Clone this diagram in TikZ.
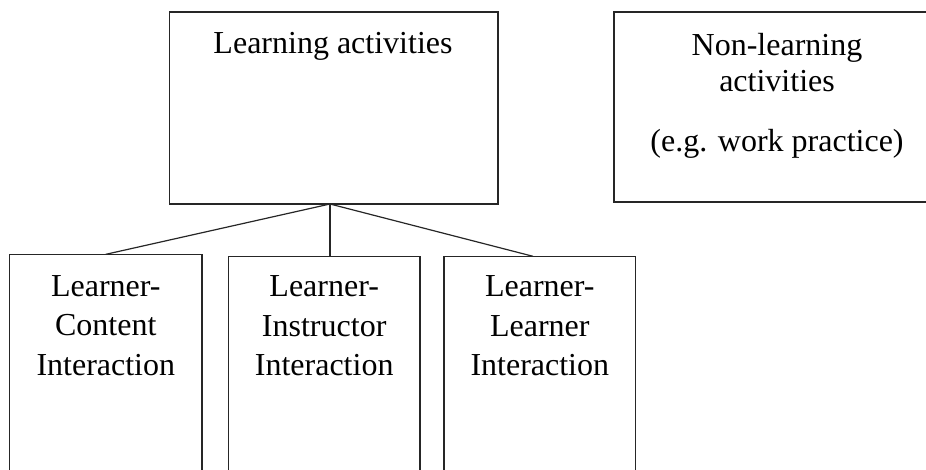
\documentclass[tikz,border=0pt]{standalone}
\usepackage{fontspec}
\setmainfont{Liberation Serif}
\begin{document}
\begin{tikzpicture}[x=1pt,y=-1pt,
  box/.style={draw=black!85, line width=1.2pt, rectangle, inner sep=0pt, outer sep=0pt, anchor=north west},
  lbl/.style={inner sep=0pt, outer sep=0pt, anchor=north, align=center,
    font=\fontsize{32}{39.5}\selectfont},
  link/.style={draw=black!85, line width=1.2pt}]
  \clip (0,0) rectangle (926,469);
  % upper level
  \node[box, minimum width=328.5pt, minimum height=192pt] (la) at (169.5,12) {};
  \node[box, minimum width=326pt, minimum height=190pt] (nl) at (614,12) {};
  % interaction boxes (run past the lower edge)
  \node[box, minimum width=192.3pt, minimum height=300pt] (b1) at (9.7,254.3) {};
  \node[box, minimum width=191.7pt, minimum height=300pt] (b2) at (228.3,256.3) {};
  \node[box, minimum width=191.7pt, minimum height=300pt] (b3) at (444,256.3) {};
  % labels
  \node[lbl] (latext) at (333,29) {\rule{0pt}{24pt}Learning activities};
  \node[lbl] (nltext) at (777,31) {\rule{0pt}{24pt}Non-learning\\[-2.8pt]activities\\[20.5pt](e.g. work practice)};
  \node[lbl] (b1text) at (105.8,272) {\rule{0pt}{24pt}Learner-\\Content\\Interaction};
  \node[lbl] (b2text) at (324.2,272.5) {\rule{0pt}{24pt}Learner-\\Instructor\\Interaction};
  \node[lbl] (b3text) at (539.8,272.5) {\rule{0pt}{24pt}Learner-\\Learner\\Interaction};
  % tree connectors
  \coordinate (apex) at (330,204);
  \coordinate (b3in) at (533,256.3);
  \draw[link] (apex) -- (b1.north);
  \draw[link] (apex) -- (apex |- b2.north);
  \draw[link] (apex) -- (b3in);
\end{tikzpicture}
\end{document}
